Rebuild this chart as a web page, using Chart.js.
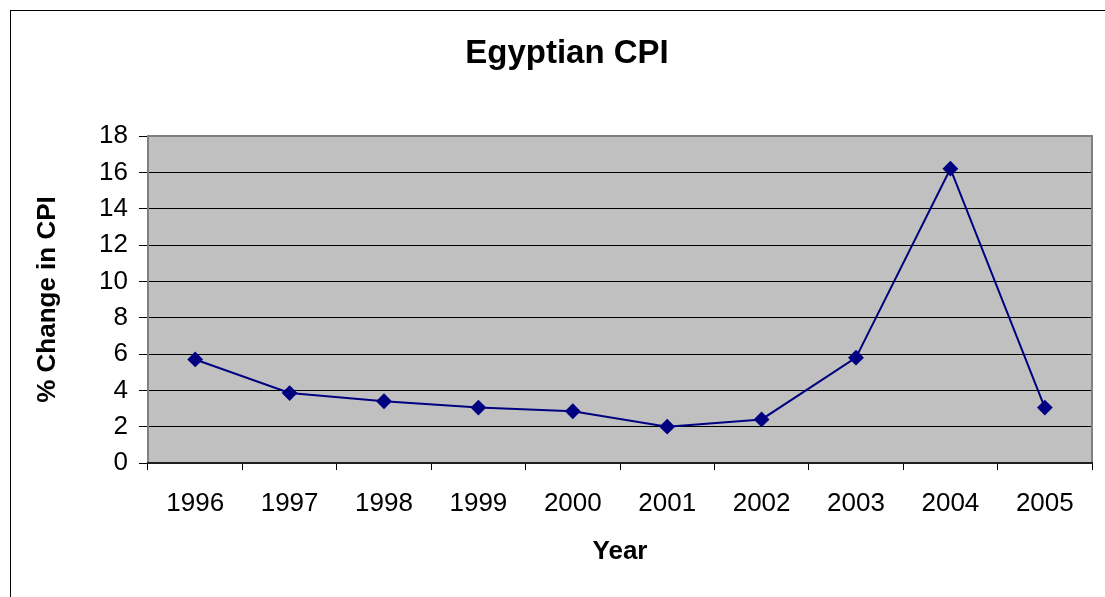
<!DOCTYPE html>
<html>
<head>
<meta charset="utf-8">
<script src="https://cdn.jsdelivr.net/npm/chart.js@4/dist/chart.umd.min.js"></script>
<style>
  html, body { margin: 0; padding: 0; background: #fff; overflow: hidden; width: 1105px; height: 597px; }
  #frame { position: absolute; left: 10px; top: 10px; width: 1112px; height: 590px; border: 1px solid #000; }
  #frame canvas { display: block; }
</style>
</head>
<body>
<div id="frame"><canvas id="cpi" width="1112" height="590"></canvas></div>
<script>
// Annual % change in Egypt's consumer price index
const years = ['1996', '1997', '1998', '1999', '2000', '2001', '2002', '2003', '2004', '2005'];
const cpiChange = [5.7, 3.85, 3.4, 3.05, 2.85, 2.0, 2.4, 5.8, 16.2, 3.05];
const yTicks = [0, 2, 4, 6, 8, 10, 12, 14, 16, 18];

const FONT = "'Liberation Sans', Arial, sans-serif";

// Grey plot background and its frame, drawn under the gridlines and the series
const plotArea = {
  id: 'plotArea',
  beforeDraw(chart) {
    const { ctx, chartArea: a } = chart;
    ctx.save();
    ctx.fillStyle = '#c0c0c0';
    ctx.fillRect(a.left, a.top, a.right - a.left, a.bottom - a.top);
    ctx.restore();
  },
  beforeDatasetsDraw(chart) {
    const { ctx, chartArea: a } = chart;
    ctx.save();
    ctx.strokeStyle = '#808080';
    ctx.lineWidth = 2;
    ctx.strokeRect(a.left, a.top, a.right - a.left, a.bottom - a.top);
    ctx.strokeStyle = '#202020';
    ctx.lineWidth = 2;
    ctx.beginPath();
    ctx.moveTo(a.left - 1, a.bottom);
    ctx.lineTo(a.right + 1, a.bottom);
    ctx.stroke();
    ctx.restore();
  }
};

new Chart(document.getElementById('cpi'), {
  type: 'line',
  data: {
    labels: years,
    datasets: [{
      label: '% Change in CPI',
      data: cpiChange,
      borderColor: '#000080',
      backgroundColor: '#000080',
      borderWidth: 2,
      pointStyle: 'rectRot',
      pointRadius: 6.5,
      pointHoverRadius: 6.5,
      pointBackgroundColor: '#000080',
      pointBorderColor: '#000080',
      tension: 0,
      clip: false,
      yAxisID: 'y'
    }]
  },
  options: {
    responsive: false,
    animation: false,
    events: [],
    layout: { autoPadding: false, padding: 0 },
    plugins: {
      legend: { display: false },
      tooltip: { enabled: false },
      title: {
        display: true,
        text: 'Egyptian CPI',
        color: '#000',
        font: { family: FONT, size: 33, weight: 'bold', lineHeight: 1.2 },
        padding: { top: 23, bottom: 62.4 }
      }
    },
    scales: {
      x: {
        offset: true,
        afterFit(scale) { scale.height = 138; },
        grid: {
          offset: true,
          drawOnChartArea: false,
          drawTicks: true,
          tickLength: 7,
          color: '#000',
          lineWidth: 1
        },
        border: { display: false },
        ticks: {
          color: '#000',
          padding: 18,
          maxRotation: 0,
          autoSkip: false,
          font: { family: FONT, size: 26 }
        },
        title: {
          display: true,
          text: 'Year',
          color: '#000',
          font: { family: FONT, size: 26, weight: 'bold', lineHeight: 1.2 },
          padding: { top: 34, bottom: 34 }
        }
      },
      y: {
        min: 0,
        max: 18,
        afterFit(scale) { scale.width = 137; },
        afterBuildTicks(scale) { scale.ticks = yTicks.map(v => ({ value: v })); },
        grid: {
          color: '#000',
          lineWidth: 1,
          drawTicks: true,
          tickLength: 9
        },
        border: { display: false },
        ticks: {
          color: '#000',
          padding: 11,
          font: { family: FONT, size: 26 }
        },
        title: {
          display: true,
          text: '% Change in CPI',
          color: '#000',
          font: { family: FONT, size: 26, weight: 'bold', lineHeight: 1.2 },
          padding: { top: 21, bottom: 21 }
        }
      },
      // empty right-hand margin between the plot and the chart's right edge
      margin: {
        type: 'linear',
        position: 'right',
        display: true,
        min: 0,
        max: 18,
        afterFit(scale) { scale.width = 31; },
        grid: { display: false, drawTicks: false },
        border: { display: false },
        ticks: { display: false },
        title: { display: false }
      }
    }
  },
  plugins: [plotArea]
});
</script>
</body>
</html>
